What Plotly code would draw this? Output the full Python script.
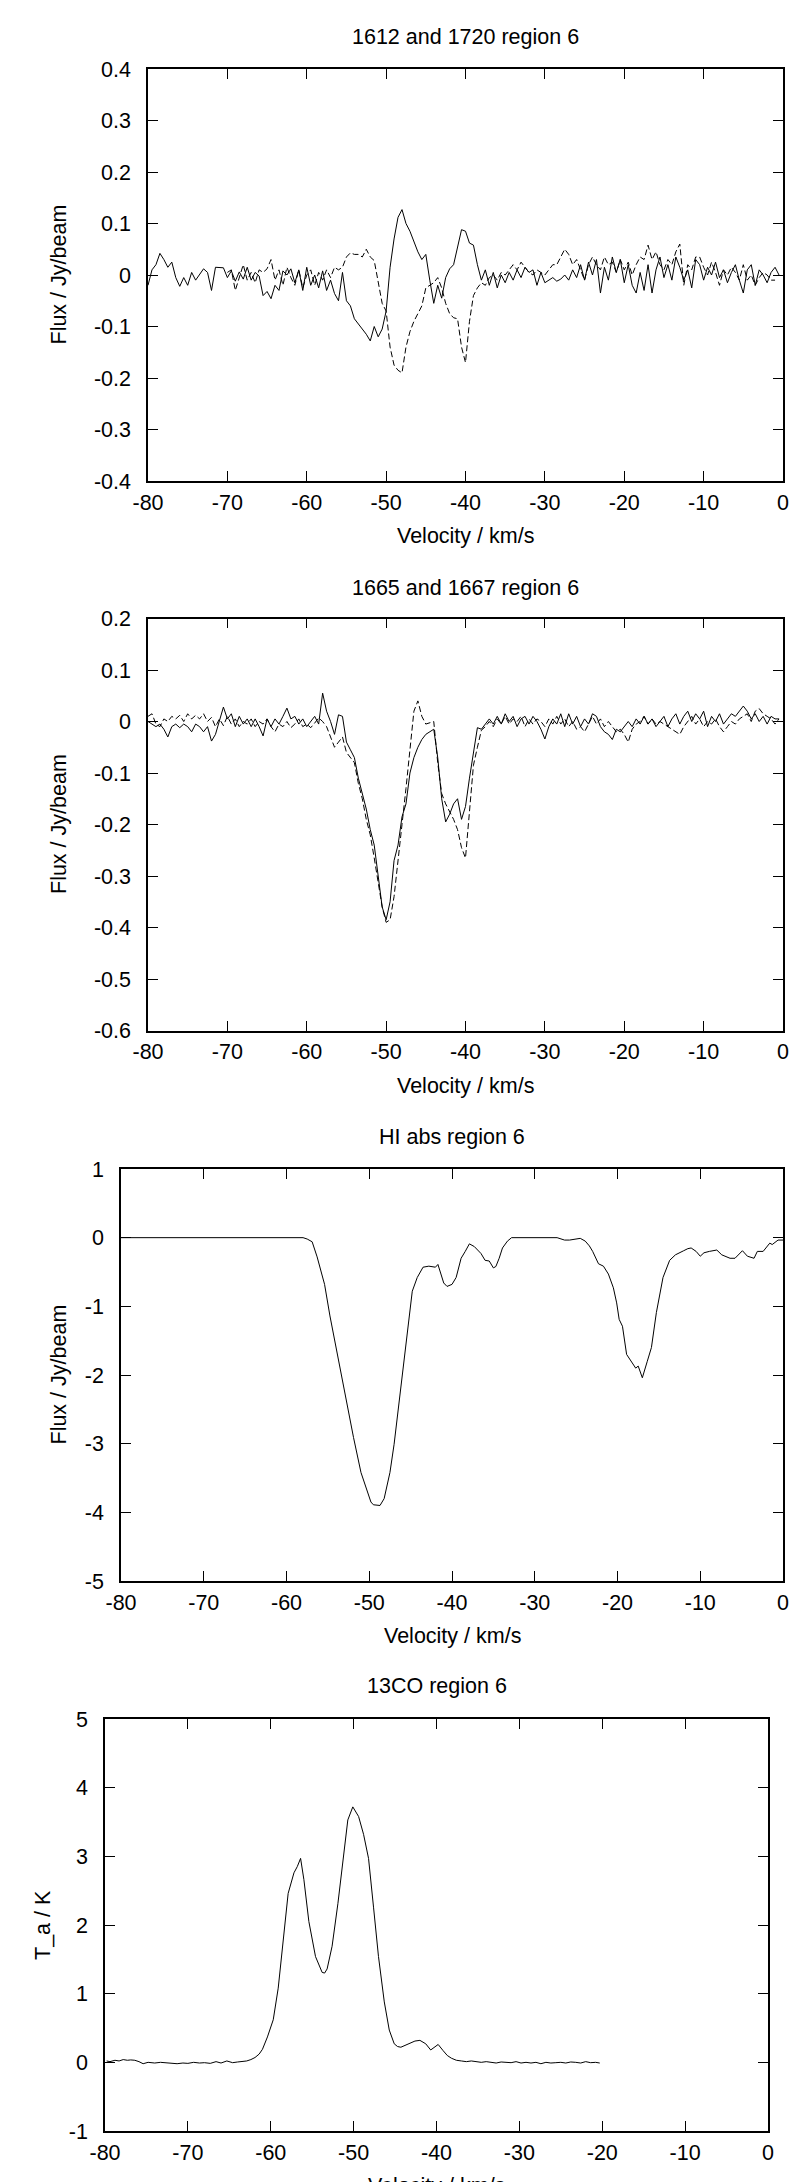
import plotly.graph_objects as go

# ---------------- data ----------------
# OH 1612 / 1720 (panel 1), channel grid start + 0.5 km/s steps
oh1612_start = -80.0
oh1612_flux = [
    -0.02, 0.01, 0.02, 0.042, 0.03, 0.015, 0.025, -0.005, -0.022, -0.005,
    -0.02, 0.005, -0.01, 0.0, 0.012, 0.005, -0.03, 0.015, 0.015, 0.014,
    -0.005, 0.008, -0.012, 0.006, -0.008, 0.015, -0.01, 0.005, -0.002, -0.04,
    -0.032, -0.046, -0.02, -0.03, 0.008, 0.0, 0.012, -0.015, 0.01, -0.03,
    0.015, -0.02, 0.0, -0.025, 0.008, -0.03, -0.01, -0.036, -0.05, 0.005,
    -0.05, -0.06, -0.085, -0.095, -0.105, -0.115, -0.128, -0.1, -0.12, -0.105,
    -0.07, 0.015, 0.07, 0.112, 0.127, 0.1, 0.085, 0.065, 0.045, 0.03,
    0.04, -0.01, -0.055, -0.02, -0.045, -0.005, 0.012, 0.02, 0.055, 0.088,
    0.085, 0.062, 0.058, 0.02, -0.01, 0.01, -0.02, 0.005, -0.025, 0.0,
    -0.015, 0.005, -0.01, 0.01, -0.005, 0.015, 0.005, 0.01, -0.02, 0.005,
    -0.015, -0.01, -0.005, -0.012, -0.008, 0.0, -0.01, 0.01, -0.005, 0.02,
    -0.01, 0.025, 0.0, 0.03, -0.035, 0.015, -0.01, 0.035, 0.005, 0.03,
    -0.015, 0.02, -0.02, -0.035, 0.005, -0.03, 0.02, -0.035, 0.01, 0.035,
    -0.005, 0.02, -0.01, 0.035, 0.015, -0.01, 0.01, -0.025, 0.03, 0.02,
    -0.01, 0.015, 0.0, 0.025, -0.005, 0.01, -0.015, 0.005, 0.02, -0.01,
    -0.035, 0.01, 0.02, -0.02, 0.01, 0.0, -0.015, 0.005, 0.015, 0.0,
]
oh1720_start = -70.0
oh1720_flux = [
    0.005, 0.01, -0.03, -0.005, 0.02, -0.01, 0.005, -0.015, 0.01, 0.005,
    0.012, 0.03, -0.01, 0.01, -0.02, 0.015, -0.005, -0.02, 0.01, -0.025,
    0.0, 0.01, -0.02, 0.005, -0.01, 0.01, -0.005, 0.015, 0.01, 0.015,
    0.035, 0.043, 0.04, 0.04, 0.035, 0.05, 0.035, 0.028, -0.01, -0.055,
    -0.07, -0.14, -0.175, -0.185, -0.19, -0.14, -0.11, -0.09, -0.075, -0.06,
    -0.025, -0.02, -0.015, -0.005, -0.025, -0.055, -0.075, -0.083, -0.085, -0.14,
    -0.17, -0.09, -0.04, -0.025, -0.015, -0.02, -0.005, 0.0, -0.01, 0.005,
    0.0, 0.01, 0.02, 0.01, 0.025, 0.015, 0.005, 0.0, 0.01, 0.005,
    0.0, 0.01, 0.02, 0.02, 0.035, 0.05, 0.04, 0.02, 0.03, 0.01,
    -0.01, 0.02, 0.035, 0.02, 0.01, 0.035, 0.02, 0.025, 0.005, 0.03,
    0.01, 0.025, 0.0, 0.02, 0.035, 0.03, 0.058, 0.03, 0.045, 0.02,
    0.01, 0.03, 0.02, 0.045, 0.06, -0.02, 0.02, 0.01, 0.035, 0.035,
    0.015, 0.0, 0.025, 0.005, -0.02, 0.01, 0.0, 0.015, 0.005, -0.01,
    0.02, -0.01, 0.0, -0.02, -0.005, 0.005, 0.0, -0.01, -0.01,
]

# OH 1665 / 1667 (panel 2)
oh1665_start = -80.0
oh1665_flux = [
    0.0, -0.005, -0.01, -0.005, -0.015, -0.03, -0.01, -0.005, -0.012, -0.005,
    -0.01, -0.02, -0.005, -0.01, -0.02, -0.01, -0.038, -0.025, 0.0, 0.028,
    0.005, 0.015, -0.01, 0.01, -0.005, 0.005, -0.01, 0.005, -0.01, -0.028,
    0.005, -0.01, 0.005, -0.005, 0.01, 0.026, 0.005, 0.01, -0.005, 0.005,
    -0.01, 0.0, 0.01, -0.005, 0.055, 0.02, 0.0, -0.025, 0.013, 0.01,
    -0.04, -0.055, -0.07, -0.11, -0.14, -0.17, -0.21, -0.24, -0.3, -0.36,
    -0.385, -0.35, -0.27, -0.24, -0.185, -0.16, -0.1, -0.07, -0.05, -0.035,
    -0.025, -0.02, -0.015, -0.07, -0.15, -0.195, -0.18, -0.16, -0.15, -0.19,
    -0.165, -0.11, -0.06, -0.012, -0.015, -0.005, 0.005, -0.005, 0.01, -0.005,
    0.015, 0.0, 0.01, -0.01, 0.005, 0.01, -0.005, 0.01, 0.0, -0.015,
    -0.034, -0.01, 0.005, -0.005, 0.015, -0.01, 0.015, -0.005, 0.01, -0.01,
    0.005, -0.005, 0.015, 0.01, -0.01, -0.02, -0.025, -0.035, -0.015, -0.02,
    -0.01, 0.0, -0.01, 0.005, -0.005, 0.01, -0.005, 0.005, -0.01, 0.0,
    0.01, -0.01, 0.005, 0.015, -0.005, 0.01, 0.02, 0.0, 0.015, 0.005,
    0.02, -0.01, 0.01, 0.0, 0.015, -0.005, 0.005, 0.015, 0.01, 0.02,
    0.03, 0.02, 0.005, 0.015, 0.0, 0.01, -0.005, 0.01, 0.005, 0.005,
]
oh1667_start = -80.0
oh1667_flux = [
    0.01, 0.015, -0.005, -0.01, 0.005, 0.0, 0.01, 0.005, 0.012, 0.0,
    0.015, 0.005, 0.012, 0.005, 0.015, 0.0, 0.008, -0.01, 0.005, -0.008,
    0.01, -0.005, 0.005, -0.01, 0.0, -0.005, 0.005, -0.01, 0.0, -0.005,
    0.005, -0.01, -0.02, -0.005, -0.01, 0.0, -0.012, -0.005, 0.005, -0.01,
    -0.005, -0.012, -0.003, 0.007, 0.0, -0.01, -0.03, -0.05, -0.04, -0.03,
    -0.06, -0.07, -0.08, -0.12, -0.15, -0.19, -0.22, -0.265, -0.31, -0.36,
    -0.39, -0.385, -0.34, -0.265, -0.2, -0.13, -0.06, 0.02, 0.04, 0.01,
    -0.005, -0.003, 0.0, -0.08, -0.14, -0.16, -0.175, -0.19, -0.21, -0.245,
    -0.265, -0.18, -0.085, -0.05, -0.017, -0.01, 0.0, -0.01, 0.005, -0.005,
    0.01, -0.005, 0.005, 0.0, 0.01, -0.01, 0.005, -0.005, 0.005, 0.0,
    -0.01, 0.005, -0.005, 0.01, -0.005, 0.005, -0.01, 0.0, -0.015, -0.01,
    -0.02, -0.005, 0.01, -0.005, 0.005, -0.01, 0.0, -0.01, -0.02, -0.015,
    -0.025, -0.04, -0.015, -0.005, 0.0, 0.01, -0.005, 0.005, -0.005, 0.0,
    -0.005, -0.01, -0.015, -0.02, -0.025, -0.01, 0.0, 0.01, -0.005, 0.005,
    -0.01, 0.0, -0.005, 0.005, -0.01, -0.02, -0.01, 0.0, -0.005, 0.005,
    0.01, 0.015, 0.0, 0.02, 0.025, 0.015, 0.01, 0.005, -0.005, 0.005,
]
channel_step = 0.5

# HI absorption (panel 3)
hi_vel = [
    -80, -58, -57.5, -56.9, -56.3, -55.4, -54.75, -53.7, -52.9, -51.9,
    -51.0, -50.3, -49.8, -49.5, -49.1, -48.7, -48.2, -47.5, -47.0, -46.3,
    -45.4, -44.8, -44.2, -43.5, -42.8, -42.3, -42.0, -41.7, -41.0, -40.6,
    -40.0, -39.5, -38.9, -38.4, -37.9, -37.3, -36.5, -36.0, -35.5, -35.0,
    -34.7, -34.3, -33.9, -33.3, -32.8, -27.3, -26.8, -26.4, -25.8, -25.2,
    -24.5, -23.9, -23.4, -23.0, -22.3, -21.7, -21.1, -20.5, -20.1, -19.8,
    -19.4, -18.9, -18.3, -17.8, -17.5, -17.0, -16.4, -15.9, -15.3, -14.5,
    -13.7, -13.0, -12.0, -11.5, -11.1, -10.5, -10.0, -9.55, -8.9, -8.0,
    -7.4, -6.4, -5.8, -4.9, -4.3, -3.5, -3.1, -2.4, -1.6, -1.3,
    -0.6, 0,
]
hi_flux = [
    0, 0, -0.02, -0.06, -0.28, -0.68, -1.14, -1.8, -2.3, -2.91,
    -3.42, -3.67, -3.85, -3.89, -3.9, -3.9, -3.8, -3.42, -3.01, -2.3,
    -1.39, -0.78, -0.58, -0.43, -0.415, -0.43, -0.43, -0.39, -0.66, -0.71,
    -0.68, -0.58, -0.3, -0.2, -0.09, -0.13, -0.23, -0.33, -0.34, -0.44,
    -0.42, -0.3, -0.15, -0.05, 0.0, 0.0, -0.02, -0.035, -0.035, -0.02,
    -0.01, -0.05, -0.12, -0.2, -0.38, -0.415, -0.53, -0.73, -0.95, -1.19,
    -1.29, -1.7, -1.8, -1.9, -1.87, -2.04, -1.8, -1.6, -1.09, -0.58,
    -0.33, -0.25, -0.19, -0.16, -0.15, -0.2, -0.27, -0.22, -0.2, -0.18,
    -0.25, -0.3, -0.3, -0.19, -0.27, -0.3, -0.2, -0.2, -0.08, -0.1,
    -0.035, -0.035,
]

# 13CO (panel 4)
co_vel = [
    -79.8, -79.4, -78.8, -78.3, -77.8, -77.3, -76.9, -76.4, -75.9, -75.4,
    -74.8, -74.0, -73.3, -72.6, -72.0, -71.3, -70.6, -70.0, -69.3, -68.6,
    -68.0, -67.3, -66.6, -66.0, -65.3, -64.6, -64.0, -63.4, -62.9, -62.4,
    -61.9, -61.4, -61.0, -60.4, -59.7, -59.1, -58.5, -57.9, -57.2, -56.8,
    -56.4, -56.0, -55.4, -54.6, -53.8, -53.5, -53.2, -52.6, -51.9, -51.3,
    -50.7, -50.1, -49.4, -48.8, -48.2, -47.6, -47.0, -46.3, -45.7, -45.1,
    -44.7, -44.3, -43.5, -42.6, -42.0, -41.3, -40.7, -40.3, -39.8, -39.2,
    -38.7, -38.2, -37.6, -37.0, -36.4, -35.8, -35.2, -34.6, -34.0, -33.4,
    -32.8, -32.2, -31.6, -31.0, -30.4, -29.8, -29.2, -28.6, -28.0, -27.4,
    -26.8, -26.2, -25.6, -25.0, -24.4, -23.8, -23.2, -22.6, -22.0, -21.4,
    -20.8, -20.3,
]
co_ta = [
    0.02, 0.01, 0.03, 0.02, 0.04, 0.03, 0.035, 0.03, 0.01, -0.02,
    0.0, -0.01, 0.0, -0.005, -0.01, -0.02, -0.01, -0.015, 0.0, -0.01,
    -0.005, -0.015, 0.01, -0.01, 0.02, -0.005, 0.005, 0.01, 0.02, 0.04,
    0.07, 0.12, 0.19, 0.37, 0.62, 1.08, 1.8, 2.46, 2.76, 2.85,
    2.97, 2.66, 2.05, 1.54, 1.31, 1.3, 1.36, 1.69, 2.31, 2.97,
    3.53, 3.72, 3.58, 3.32, 2.97, 2.26, 1.54, 0.88, 0.47, 0.27,
    0.23, 0.22, 0.26, 0.31, 0.32, 0.27, 0.18, 0.22, 0.26, 0.17,
    0.1, 0.06, 0.03, 0.02, 0.01, 0.02, 0.015, 0.0, 0.01, 0.0,
    -0.01, 0.005, 0.0, -0.005, 0.01, -0.01, 0.0, -0.01, 0.0, -0.02,
    0.0, -0.01, -0.005, 0.0, -0.01, 0.005, 0.0, -0.01, 0.01, -0.005,
    0.0, -0.01,
]

# ticks / labels
vel_ticks = [-80, -70, -60, -50, -40, -30, -20, -10, 0]
vel_tick_labels = ["-80", "-70", "-60", "-50", "-40", "-30", "-20", "-10", "0"]
p1_ticks = [0.4, 0.3, 0.2, 0.1, 0, -0.1, -0.2, -0.3, -0.4]
p1_tick_labels = ["0.4", "0.3", "0.2", "0.1", "0", "-0.1", "-0.2", "-0.3", "-0.4"]
p2_ticks = [0.2, 0.1, 0, -0.1, -0.2, -0.3, -0.4, -0.5, -0.6]
p2_tick_labels = ["0.2", "0.1", "0", "-0.1", "-0.2", "-0.3", "-0.4", "-0.5", "-0.6"]
p3_ticks = [1, 0, -1, -2, -3, -4, -5]
p3_tick_labels = ["1", "0", "-1", "-2", "-3", "-4", "-5"]
p4_ticks = [5, 4, 3, 2, 1, 0, -1]
p4_tick_labels = ["5", "4", "3", "2", "1", "0", "-1"]

titles = ["1612 and 1720 region 6", "1665 and 1667 region 6", "HI abs region 6", "13CO region 6"]
x_title = "Velocity / km/s"
y_titles = ["Flux / Jy/beam", "Flux / Jy/beam", "Flux / Jy/beam", "T_a / K"]


def channels(start, n):
    return [start + channel_step * i for i in range(n)]


# ---------------- layout geometry (pixels) ----------------
W, H = 809, 2182
OFF = 8  # the page body has an 8px default margin
FONT = "Liberation Sans, Arial, sans-serif"
FS = 21.5

# (left, right, top, bottom) of each plot frame in page pixels
frames = [
    (148, 783, 69, 481),
    (148, 783, 618.5, 1030.5),
    (121, 783, 1169, 1581),
    (105, 768, 1719, 2131),
]
title_y = [37, 588, 1137, 1686]
ylab_x = [58.5, 58.5, 58.5, 43]
yranges = [(-0.4, 0.4), (-0.6, 0.2), (-5, 1), (-1, 5)]
yticks = [(p1_ticks, p1_tick_labels), (p2_ticks, p2_tick_labels),
          (p3_ticks, p3_tick_labels), (p4_ticks, p4_tick_labels)]


def px(x):
    return (x - OFF) / W


def py(y):
    return 1 - (y - OFF) / H


fig = go.Figure()

solid = dict(color="black", width=1)
dashed = dict(color="black", width=1, dash="6px,3px")

fig.add_trace(go.Scatter(x=channels(oh1612_start, len(oh1612_flux)), y=oh1612_flux,
                         mode="lines", line=solid, xaxis="x", yaxis="y"))
fig.add_trace(go.Scatter(x=channels(oh1720_start, len(oh1720_flux)), y=oh1720_flux,
                         mode="lines", line=dashed, xaxis="x", yaxis="y"))
fig.add_trace(go.Scatter(x=channels(oh1665_start, len(oh1665_flux)), y=oh1665_flux,
                         mode="lines", line=solid, xaxis="x2", yaxis="y2"))
fig.add_trace(go.Scatter(x=channels(oh1667_start, len(oh1667_flux)), y=oh1667_flux,
                         mode="lines", line=dashed, xaxis="x2", yaxis="y2"))
fig.add_trace(go.Scatter(x=hi_vel, y=hi_flux, mode="lines", line=solid, xaxis="x3", yaxis="y3"))
fig.add_trace(go.Scatter(x=co_vel, y=co_ta, mode="lines", line=solid, xaxis="x4", yaxis="y4"))

annotations = []
for i, (l, r, t, b) in enumerate(frames):
    n = "" if i == 0 else str(i + 1)
    common = dict(showline=True, linecolor="black", linewidth=1.5, mirror="ticks",
                  ticks="inside", ticklen=10, tickwidth=1.2, tickcolor="black",
                  showgrid=False, zeroline=False, automargin=False,
                  tickfont=dict(family=FONT, size=FS, color="black"))
    fig.layout["xaxis" + n] = dict(
        domain=[px(l), px(r)], anchor="y" + n, range=[-80, 0],
        tickmode="array", tickvals=vel_ticks, ticktext=vel_tick_labels,
        ticklabelstandoff=1, **common)
    fig.layout["yaxis" + n] = dict(
        domain=[py(b), py(t)], anchor="x" + n, range=list(yranges[i]),
        tickmode="array", tickvals=yticks[i][0], ticktext=yticks[i][1],
        ticklabelstandoff=11, **common)
    annotations.append(dict(text=titles[i], x=px((l + r) / 2), y=py(title_y[i]),
                            xref="paper", yref="paper", showarrow=False,
                            xanchor="center", yanchor="middle",
                            font=dict(family=FONT, size=FS, color="black")))
    annotations.append(dict(text=x_title, x=px((l + r) / 2), y=py(b + 55),
                            xref="paper", yref="paper", showarrow=False,
                            xanchor="center", yanchor="middle",
                            font=dict(family=FONT, size=FS, color="black")))
    annotations.append(dict(text=y_titles[i], x=px(ylab_x[i]), y=py((t + b) / 2),
                            xref="paper", yref="paper", showarrow=False, textangle=-90,
                            xanchor="center", yanchor="middle",
                            font=dict(family=FONT, size=FS, color="black")))

fig.update_layout(width=W, height=H,
                  margin=dict(l=0, r=0, t=0, b=0, pad=0, autoexpand=False),
                  paper_bgcolor="white", plot_bgcolor="white",
                  showlegend=False, annotations=annotations)

fig.write_html("out.html")
